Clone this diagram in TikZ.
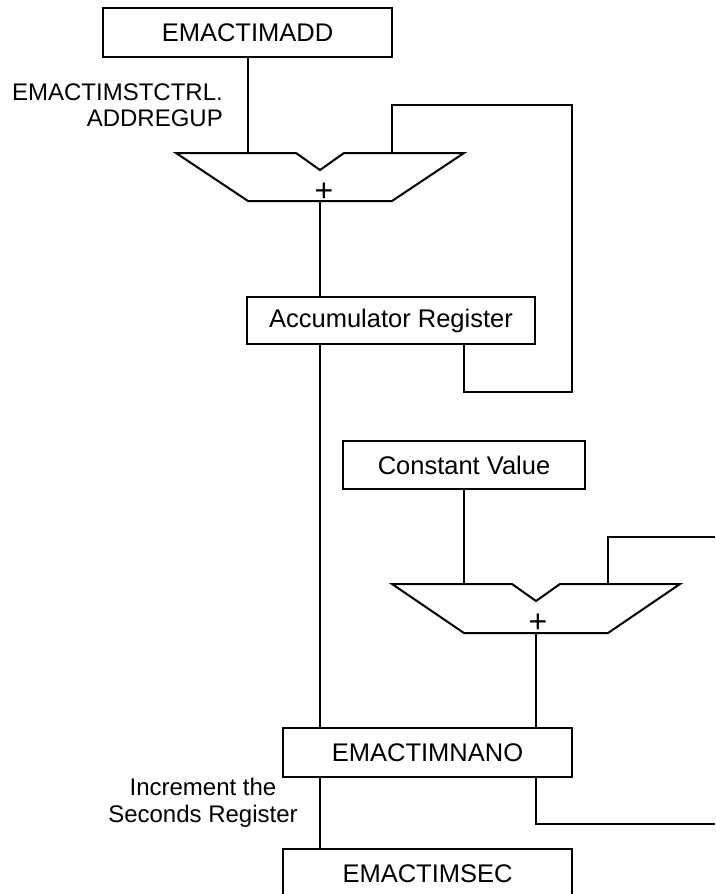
\documentclass[tikz,border=0pt]{standalone}
\usepackage{fontspec}
\setmainfont{Liberation Sans}
\begin{document}
\begin{tikzpicture}[x=1pt,y=-1pt,
  regbox/.style={draw=black,line width=2pt,inner sep=0pt,
    font=\fontsize{25.5}{30}\selectfont},
  wire/.style={draw=black,line width=1.3pt},
  adder/.style={draw=black,line width=2pt,line join=miter},
  plussign/.style={inner sep=0pt,font=\fontsize{32}{36}\selectfont},
  lbl/.style={inner sep=0pt,font=\fontsize{24}{26.5}\selectfont}]
\useasboundingbox (0,0) rectangle (715,894);
\clip (0,0) rectangle (715,894);
\fill[white] (0,0) rectangle (715,894);

% boxes
\node[regbox,minimum width=289pt,minimum height=49pt] (add) at (247.5,32.5) {EMACTIMADD};
\node[regbox,minimum width=288pt,minimum height=47pt] (acc) at (391,320.5) {Accumulator Register};
\node[regbox,minimum width=242pt,minimum height=48pt] (const) at (464,465) {Constant Value};
\node[regbox,minimum width=289pt,minimum height=49pt] (nano) at (427.5,752.5) {EMACTIMNANO};
\node[regbox,minimum width=289pt,minimum height=49pt] (sec) at (427.5,873.5) {EMACTIMSEC};

% adder 1
\draw[adder] (176,153) -- (296,153) -- (320,170) -- (344,153) -- (464,153)
  -- (392,201) -- (248,201) -- cycle;
\node[plussign] (plus1) at (324,192) {+};
\coordinate (a1inL) at (248,153);
\coordinate (a1inR) at (392,153);
\coordinate (a1out) at (320,201);

% adder 2
\draw[adder] (392,584) -- (512,584) -- (536,601) -- (560,584) -- (680,584)
  -- (608,633) -- (464,633) -- cycle;
\node[plussign] (plus2) at (538,623.5) {+};
\coordinate (a2inL) at (464,584);
\coordinate (a2inR) at (608,584);
\coordinate (a2out) at (536,633);

% labels
\node[lbl,align=right,anchor=east] (lab1) at (223,105) {EMACTIMSTCTRL.\\ADDREGUP};
\node[lbl,align=center] (lab2) at (203,803) {Increment the\\Seconds Register};

% wires
\draw[wire] (add.south -| a1inL) -- (a1inL);
\draw[wire] (a1out) -- (a1out |- acc.north);
\coordinate (fb1) at (392,105);
\coordinate (fb2) at (572,105);
\coordinate (fb3) at (572,392);
\coordinate (fb4) at (464,392);
\draw[wire] (a1inR) -- (fb1) -- (fb2) -- (fb3) -- (fb4) -- (fb4 |- acc.south);
\draw[wire] (acc.south -| a1out) -- (a1out |- nano.north);
\draw[wire] (nano.south -| a1out) -- (a1out |- sec.north);
\draw[wire] (const.south -| a2inL) -- (a2inL);
\coordinate (in2a) at (608,537);
\coordinate (in2b) at (715,537);
\draw[wire] (a2inR) -- (in2a) -- (in2b);
\draw[wire] (a2out) -- (a2out |- nano.north);
\coordinate (out2a) at (536,824);
\coordinate (out2b) at (715,824);
\draw[wire] (nano.south -| a2out) -- (out2a) -- (out2b);
\end{tikzpicture}
\end{document}
